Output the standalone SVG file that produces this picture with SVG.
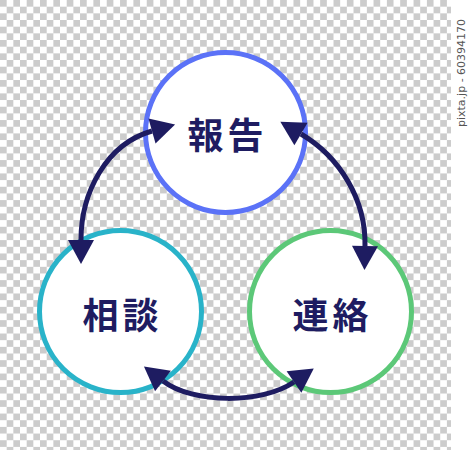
<svg xmlns="http://www.w3.org/2000/svg" width="469" height="450" viewBox="0 0 469 450">
  <style>
    .node circle { fill: #ffffff; stroke-width: 5; }
    .label { font-family: "Noto Sans CJK JP", "Noto Sans", sans-serif; font-weight: 700; font-size: 36px; fill: #1e1c61; letter-spacing: 4px; text-anchor: middle; dominant-baseline: central; }
    .conn path { fill: none; stroke: #1e1c61; stroke-width: 5; marker-start: url(#head-start); marker-end: url(#head); }
    .wm { font-family: "DejaVu Sans", "Liberation Sans", sans-serif; font-size: 11px; fill: #555555; }
  </style>
  <defs>
    <pattern id="checker" width="13.34" height="13.34" patternUnits="userSpaceOnUse">
      <rect width="13.34" height="13.34" fill="#ffffff"/>
      <rect width="6.67" height="6.67" fill="#cccccc"/>
      <rect x="6.67" y="6.67" width="6.67" height="6.67" fill="#cccccc"/>
    </pattern>
    <marker id="head" markerUnits="userSpaceOnUse" markerWidth="30" markerHeight="30" viewBox="-2 -15 30 30" refX="0" refY="0" orient="auto">
      <path d="M0,-13 L24,0 L0,13 Z" fill="#1e1c61"/>
    </marker>
    <marker id="head-start" markerUnits="userSpaceOnUse" markerWidth="30" markerHeight="30" viewBox="-2 -15 30 30" refX="0" refY="0" orient="auto-start-reverse">
      <path d="M0,-13 L24,0 L0,13 Z" fill="#1e1c61"/>
    </marker>
  </defs>

  <rect x="0" y="0" width="451" height="450" fill="url(#checker)"/>
  <rect x="451" y="0" width="18" height="450" fill="#ffffff"/>
  <text class="wm" transform="translate(465,127) rotate(-90)">pixta.jp - 60394170</text>

  <g id="node-houkoku" class="node">
    <circle cx="225.5" cy="132.5" r="80" stroke="#5b72f7"/>
  </g>
  <g id="node-soudan" class="node">
    <circle cx="120.5" cy="311.5" r="81" stroke="#29b3c9"/>
  </g>
  <g id="node-renraku" class="node">
    <circle cx="330.5" cy="311.5" r="81" stroke="#5cc878"/>
  </g>

  <g id="connectors" class="conn">
    <path d="M81,240 C81,193 106,144 152,131"/>
    <path d="M301,134 C340,157 366,200 365,246"/>
    <path d="M163,381 C193,404 262,404 294,382"/>
  </g>

  <g id="labels">
    <text class="label" x="227.5" y="133">報告</text>
    <text class="label" x="122.5" y="313">相談</text>
    <text class="label" x="332.5" y="313">連絡</text>
  </g>
</svg>
